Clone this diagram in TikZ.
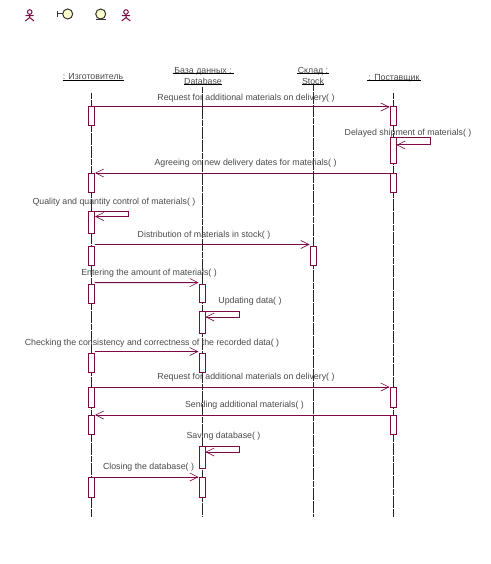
\documentclass[tikz,border=0pt]{standalone}
\usepackage{fontspec}
\setmainfont{Liberation Sans}
\usetikzlibrary{arrows.meta}
\definecolor{uml}{HTML}{7A0A45}
\definecolor{umlfill}{HTML}{FFFFCC}
\definecolor{txt}{HTML}{4A4A4A}
\tikzset{
  act/.style={draw=uml,fill=white,line width=1pt,minimum width=6pt,inner sep=0pt,outer sep=0pt},
  msg/.style={draw=uml,line width=1pt,-{Straight Barb[length=8pt,width=8pt,line width=0.6pt]},shorten >=0.5pt},
  life/.style={draw=black!85,line width=0.6pt,dash pattern=on 6pt off 0.6pt},
  lbl/.style={text=txt,font=\fontsize{8.8pt}{10pt}\selectfont,inner sep=0pt,outer sep=0pt},
  head/.style={text=txt,font=\fontsize{8.8pt}{10pt}\selectfont,inner sep=0pt,outer sep=0pt,text depth=0pt},
  uline/.style={draw=black,line width=0.9pt},
  icon/.style={draw=uml,line width=1pt},
}
\begin{document}
\begin{tikzpicture}[x=1pt,y=-1pt]
\useasboundingbox[fill=white] (0,0) rectangle (490,564);
% icons
\foreach \cx in {29.7,126}{
  \draw[icon] (\cx,12) circle (2.3);
  \draw[icon] (\cx,14.3) -- (\cx,17.5) (\cx-4,15.7) -- (\cx+4,15.7) (\cx-4.3,21) -- (\cx,17.5) -- (\cx+4.3,21);
}
\draw[icon,draw=black!80,fill=umlfill] (67.7,14) circle (5);
\draw[icon,draw=black!80] (57.3,11) -- (57.3,17) (57.3,14) -- (62.7,14);
\draw[icon,draw=black!80,fill=umlfill] (100.7,14) circle (5);
\draw[icon,draw=black!80] (95.5,19.3) -- (106,19.3);
% headers
\node[head,minimum width=61pt,anchor=south] (hA) at (93,80) {: Изготовитель};
\node[head,minimum width=61pt,anchor=south] (hB) at (203,73.5) {База данных :};
\node[head,minimum width=36pt,anchor=south] (hBb) at (203,84.3) {Database};
\node[head,minimum width=32pt,anchor=south] (hC) at (313,73.8) {Склад :};
\node[head,minimum width=22pt,anchor=south] (hCb) at (313,84.3) {Stock};
\node[head,minimum width=54pt,anchor=south] (hD) at (394,80.3) {: Поставщик};
\foreach \n in {hA,hB,hBb,hC,hCb,hD}{\draw[uline] (\n.south west) -- (\n.south east);}
% lifelines
\coordinate (topA) at (91.5,93); \coordinate (botA) at (91.5,516.5);
\coordinate (topB) at (202,87);  \coordinate (botB) at (202,516.5);
\coordinate (topC) at (313,85);  \coordinate (botC) at (313,516.5);
\coordinate (topD) at (393.5,93);\coordinate (botD) at (393.5,516.5);
\draw[life] (topA) -- (botA);
\draw[life] (topB) -- (botB);
\draw[life] (topC) -- (botC);
\draw[life] (topD) -- (botD);
% activations
\node[act,minimum height=19pt] (a1) at (91.5,116.5) {};
\node[act,minimum height=19pt] (a2) at (91.5,182.5) {};
\node[act,minimum height=22pt] (a3) at (91.5,222) {};
\node[act,minimum height=19pt] (a4) at (91.5,255.5) {};
\node[act,minimum height=19pt] (a5) at (91.5,293.5) {};
\node[act,minimum height=19pt] (a6) at (91.5,362.5) {};
\node[act,minimum height=20pt] (a7) at (91.5,397) {};
\node[act,minimum height=19pt] (a8) at (91.5,424.5) {};
\node[act,minimum height=20pt] (a9) at (91.5,487) {};
\node[act,minimum height=18.5pt] (b1) at (202,293.3) {};
\node[act,minimum height=22pt] (b2) at (202,322) {};
\node[act,minimum height=19pt] (b3) at (202,362.5) {};
\node[act,minimum height=22pt] (b4) at (202,457) {};
\node[act,minimum height=20pt] (b5) at (202,487) {};
\node[act,minimum height=19pt] (c1) at (313,255.5) {};
\node[act,minimum height=19pt] (d1) at (393,116.5) {};
\node[act,minimum height=26pt] (d2) at (393,151) {};
\node[act,minimum height=19pt] (d3) at (393,182.5) {};
\node[act,minimum height=20pt] (d4) at (393,397) {};
\node[act,minimum height=19pt] (d5) at (393,424.5) {};
% messages
\draw[msg] (a1.north east) -- (d1.north west);
\draw[msg] (d2.north east) -- ++(34,0) -- ++(0,7) -- ++(-34,0);
\draw[msg] (d3.north west) -- (a2.north east);
\draw[msg] (a3.north east) -- ++(34,0) -- ++(0,5.5) -- ++(-34,0);
\draw[msg] ([yshift=1.5pt]a4.north east) -- ([yshift=1.5pt]c1.north west);
\draw[msg] ([yshift=1.5pt]a5.north east) -- ([yshift=1.5pt]b1.north west);
\draw[msg] (b2.north east) -- ++(34,0) -- ++(0,6) -- ++(-34,0);
\draw[msg] ([yshift=1.5pt]a6.north east) -- ([yshift=1.5pt]b3.north west);
\draw[msg] (a7.north east) -- (d4.north west);
\draw[msg] (d5.north west) -- (a8.north east);
\draw[msg] (b4.north east) -- ++(34,0) -- ++(0,6) -- ++(-34,0);
\draw[msg] (a9.north east) -- (b5.north west);
% labels
\node[lbl] (m1) at (246,98.1) {Request for additional materials on delivery( )};
\node[lbl] (m2) at (408,133.1) {Delayed shipment of materials( )};
\node[lbl] (m3) at (245.5,163.1) {Agreeing on new delivery dates for materials( )};
\node[lbl] (m4) at (114,202.1) {Quality and quantity control of materials( )};
\node[lbl] (m5) at (204,235.1) {Distribution of materials in stock( )};
\node[lbl] (m6) at (149,273.1) {Entering the amount of materials( )};
\node[lbl] (m7) at (250,301.1) {Updating data( )};
\node[lbl] (m8) at (152,343.1) {Checking the consistency and correctness of the recorded data( )};
\node[lbl] (m9) at (246,377.1) {Request for additional materials on delivery( )};
\node[lbl] (m10) at (244.5,405.1) {Sending additional materials( )};
\node[lbl] (m11) at (223.5,436.1) {Saving database( )};
\node[lbl] (m12) at (148.5,467.1) {Closing the database( )};
\end{tikzpicture}
\end{document}
